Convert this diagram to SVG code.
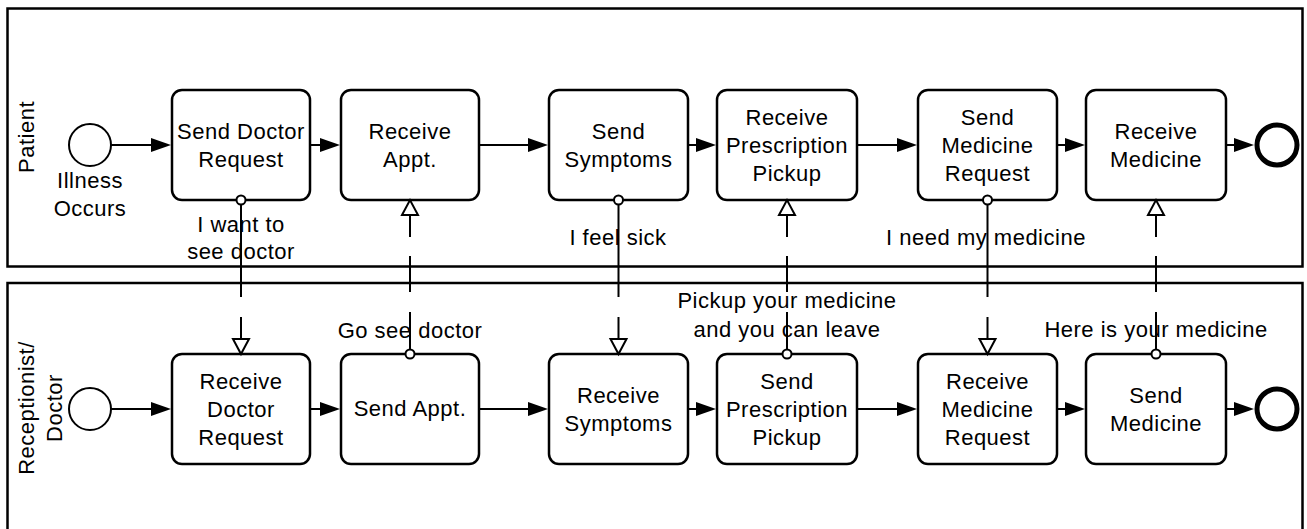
<svg xmlns="http://www.w3.org/2000/svg" width="1307" height="529" viewBox="0 0 1307 529">
<style>
  .pool{fill:none;stroke:#000;stroke-width:2.5}
  .task{fill:#fff;stroke:#000;stroke-width:2.5}
  .start{fill:#fff;stroke:#000;stroke-width:2}
  .end{fill:#fff;stroke:#000;stroke-width:5}
  .seq{fill:none;stroke:#000;stroke-width:2;marker-end:url(#seqArrow)}
  .msg{fill:none;stroke:#000;stroke-width:2;marker-start:url(#msgStart);marker-end:url(#msgArrow)}
  text{font-family:"Liberation Sans",Arial,sans-serif;font-size:22px;fill:#000;text-anchor:middle;letter-spacing:0.5px}
</style>
<defs>
  <marker id="seqArrow" markerUnits="userSpaceOnUse" viewBox="0 -8 21 16" refX="11" refY="0" markerWidth="21" markerHeight="16" orient="auto" overflow="visible">
    <path d="M0,-7 L20,0 L0,7 Z" fill="#000"/>
  </marker>
  <marker id="msgArrow" markerUnits="userSpaceOnUse" viewBox="-2 -10 20 20" refX="0" refY="0" markerWidth="20" markerHeight="20" orient="auto" overflow="visible">
    <path d="M0,-8 L15,0 L0,8 Z" fill="#fff" stroke="#000" stroke-width="2" stroke-linejoin="miter"/>
  </marker>
  <marker id="msgStart" markerUnits="userSpaceOnUse" viewBox="-7 -7 14 14" refX="0" refY="0" markerWidth="14" markerHeight="14" overflow="visible">
    <circle cx="0" cy="0" r="4.5" fill="#fff" stroke="#000" stroke-width="2"/>
  </marker>
</defs>

<g id="pool-patient">
  <rect class="pool" x="7.5" y="8.5" width="1295" height="258"/>
  <text transform="translate(34,137) rotate(-90)">Patient</text>
</g>
<g id="pool-receptionist">
  <rect class="pool" x="7.5" y="283" width="1295" height="260"/>
  <text transform="translate(34,408) rotate(-90)">Receptionist/</text>
  <text transform="translate(62,408) rotate(-90)">Doctor</text>
</g>

<!-- Patient lane -->
<g id="start-patient">
  <circle class="start" cx="90" cy="145" r="21"/>
  <text x="90" y="188">Illness</text>
  <text x="90" y="216">Occurs</text>
</g>
<g id="send-doctor-request">
  <rect class="task" x="172" y="90" width="138" height="110" rx="10"/>
  <text x="241" y="139">Send Doctor</text>
  <text x="241" y="167">Request</text>
</g>
<g id="receive-appt">
  <rect class="task" x="341" y="90" width="138" height="110" rx="10"/>
  <text x="410" y="139">Receive</text>
  <text x="410" y="167">Appt.</text>
</g>
<g id="send-symptoms">
  <rect class="task" x="549" y="90" width="139" height="110" rx="10"/>
  <text x="618.5" y="139">Send</text>
  <text x="618.5" y="167">Symptoms</text>
</g>
<g id="receive-prescription-pickup">
  <rect class="task" x="717" y="90" width="140" height="110" rx="10"/>
  <text x="787" y="125">Receive</text>
  <text x="787" y="153">Prescription</text>
  <text x="787" y="181">Pickup</text>
</g>
<g id="send-medicine-request">
  <rect class="task" x="918" y="90" width="139" height="110" rx="10"/>
  <text x="987.5" y="125">Send</text>
  <text x="987.5" y="153">Medicine</text>
  <text x="987.5" y="181">Request</text>
</g>
<g id="receive-medicine">
  <rect class="task" x="1086" y="90" width="140" height="110" rx="10"/>
  <text x="1156" y="139">Receive</text>
  <text x="1156" y="167">Medicine</text>
</g>
<g id="end-patient">
  <circle class="end" cx="1277" cy="145" r="20"/>
</g>

<!-- Receptionist lane -->
<g id="start-receptionist">
  <circle class="start" cx="90" cy="409" r="21"/>
</g>
<g id="receive-doctor-request">
  <rect class="task" x="172" y="354" width="138" height="110" rx="10"/>
  <text x="241" y="389">Receive</text>
  <text x="241" y="417">Doctor</text>
  <text x="241" y="445">Request</text>
</g>
<g id="send-appt">
  <rect class="task" x="341" y="354" width="138" height="110" rx="10"/>
  <text x="410" y="416">Send Appt.</text>
</g>
<g id="receive-symptoms">
  <rect class="task" x="549" y="354" width="139" height="110" rx="10"/>
  <text x="618.5" y="403">Receive</text>
  <text x="618.5" y="431">Symptoms</text>
</g>
<g id="send-prescription-pickup">
  <rect class="task" x="717" y="354" width="140" height="110" rx="10"/>
  <text x="787" y="389">Send</text>
  <text x="787" y="417">Prescription</text>
  <text x="787" y="445">Pickup</text>
</g>
<g id="receive-medicine-request">
  <rect class="task" x="918" y="354" width="139" height="110" rx="10"/>
  <text x="987.5" y="389">Receive</text>
  <text x="987.5" y="417">Medicine</text>
  <text x="987.5" y="445">Request</text>
</g>
<g id="send-medicine">
  <rect class="task" x="1086" y="354" width="140" height="110" rx="10"/>
  <text x="1156" y="403">Send</text>
  <text x="1156" y="431">Medicine</text>
</g>
<g id="end-receptionist">
  <circle class="end" cx="1277" cy="409" r="20"/>
</g>

<g id="connectors">
  <!-- sequence flows, patient -->
  <path class="seq" d="M111,145 H162"/>
  <path class="seq" d="M310,145 H331"/>
  <path class="seq" d="M479,145 H539"/>
  <path class="seq" d="M688,145 H707"/>
  <path class="seq" d="M857,145 H908"/>
  <path class="seq" d="M1057,145 H1076"/>
  <path class="seq" d="M1226,145 H1245"/>
  <!-- sequence flows, receptionist -->
  <path class="seq" d="M111,409 H162"/>
  <path class="seq" d="M310,409 H331"/>
  <path class="seq" d="M479,409 H539"/>
  <path class="seq" d="M688,409 H707"/>
  <path class="seq" d="M857,409 H908"/>
  <path class="seq" d="M1057,409 H1076"/>
  <path class="seq" d="M1226,409 H1245"/>
  <!-- message flows -->
  <path class="msg" d="M241,200 V297 M241,317 V339"/>
  <path class="msg" d="M410,354 V312 M410,292 V256 M410,237 V215"/>
  <path class="msg" d="M618.5,200 V297 M618.5,317 V339"/>
  <path class="msg" d="M787,354 V312 M787,292 V256 M787,237 V215"/>
  <path class="msg" d="M987.5,200 V297 M987.5,317 V339"/>
  <path class="msg" d="M1156,354 V312 M1156,292 V256 M1156,237 V215"/>
  <!-- message labels -->
  <text x="241" y="232">I want to</text>
  <text x="241" y="259">see doctor</text>
  <text x="618" y="245">I feel sick</text>
  <text x="986" y="245">I need my medicine</text>
  <text x="410" y="338">Go see doctor</text>
  <text x="787" y="308">Pickup your medicine</text>
  <text x="787" y="337">and you can leave</text>
  <text x="1156" y="337">Here is your medicine</text>
</g>
</svg>
